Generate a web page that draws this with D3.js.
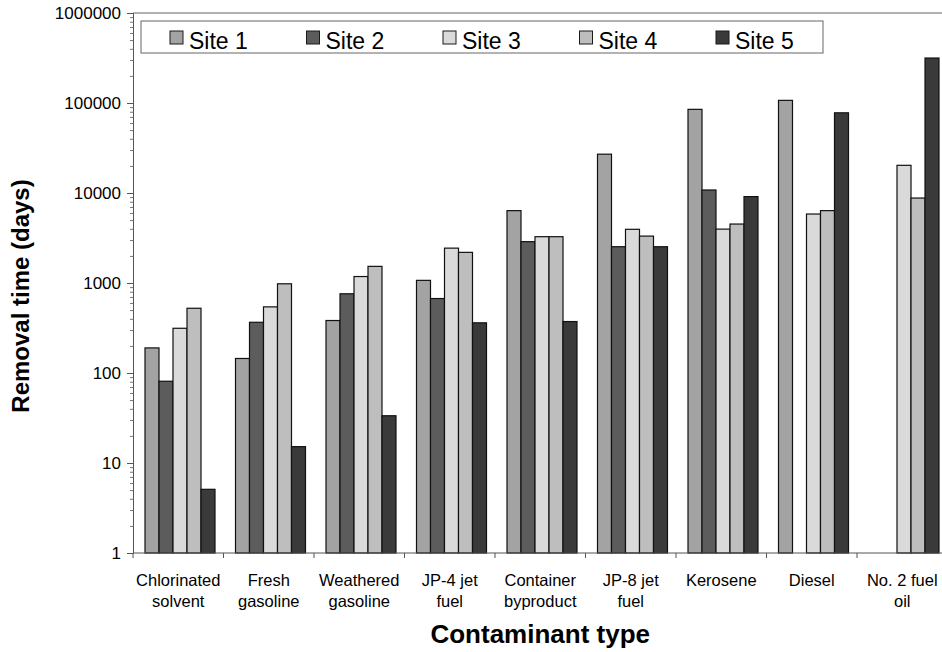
<!DOCTYPE html>
<html>
<head>
<meta charset="utf-8">
<script src="https://cdn.jsdelivr.net/npm/d3@7"></script>
<style>
  body { margin: 0; background: #fff; }
  svg { display: block; font-family: "Liberation Sans", Arial, sans-serif; }
  .tick text { fill: #000; }
</style>
</head>
<body>
<svg id="chart" width="942" height="652"></svg>
<script>
const categories = ['Chlorinated solvent', 'Fresh gasoline', 'Weathered gasoline', 'JP-4 jet fuel',
  'Container byproduct', 'JP-8 jet fuel', 'Kerosene', 'Diesel', 'No. 2 fuel oil'];
const categoryLines = [['Chlorinated', 'solvent'], ['Fresh', 'gasoline'], ['Weathered', 'gasoline'],
  ['JP-4 jet', 'fuel'], ['Container', 'byproduct'], ['JP-8 jet', 'fuel'], ['Kerosene'], ['Diesel'],
  ['No. 2 fuel', 'oil']];
const sites = ['Site 1', 'Site 2', 'Site 3', 'Site 4', 'Site 5'];
const siteColors = ['#a3a3a3', '#5c5c5c', '#dadada', '#bebebe', '#3a3a3a'];

// removal time (days), null = no bar
const site1 = [190, 145, 383, 1070, 6370, 27000, 85000, 107000, null];
const site2 = [81, 366, 759, 672, 2880, 2530, 10800, null, null];
const site3 = [314, 543, 1180, 2440, 3270, 3950, 3970, 5840, 20300];
const site4 = [524, 980, 1530, 2190, 3270, 3320, 4520, 6370, 8790];
const site5 = [5.1, 15.2, 33.5, 361, 373, 2530, 9120, 77800, 316000];
const seriesValues = [site1, site2, site3, site4, site5];

const yTickValues = [1, 10, 100, 1000, 10000, 100000, 1000000];

const plotLeft = 133, plotTop = 13, plotBottom = 553;
const bandWidth = 90.5;

const svg = d3.select('#chart');

const x0 = d3.scaleBand()
  .domain(categories)
  .range([plotLeft, plotLeft + bandWidth * categories.length]);

const x1 = d3.scaleBand()
  .domain(sites)
  .range([12, 82]);

const y = d3.scaleLog()
  .domain([1, 1000000])
  .range([plotBottom, plotTop]);

// top frame line
svg.append('line')
  .attr('x1', plotLeft).attr('x2', 942)
  .attr('y1', plotTop).attr('y2', plotTop)
  .attr('stroke', '#666').attr('stroke-width', 1);

// bars
const rows = [];
seriesValues.forEach((vals, si) => {
  vals.forEach((v, ci) => {
    if (v != null) rows.push({ cat: categories[ci], site: sites[si], value: v, color: siteColors[si] });
  });
});

svg.append('g')
  .selectAll('rect')
  .data(rows)
  .join('rect')
  .attr('x', (d) => x0(d.cat) + x1(d.site))
  .attr('width', x1.bandwidth())
  .attr('y', (d) => y(d.value))
  .attr('height', (d) => y(1) - y(d.value))
  .attr('fill', (d) => d.color)
  .attr('stroke', '#111')
  .attr('stroke-width', 1.2);

// Y axis, major ticks
const yAxis = svg.append('g')
  .attr('transform', 'translate(' + plotLeft + ',0)')
  .call(d3.axisLeft(y).tickValues(yTickValues).tickFormat(d3.format('d')).tickSize(6).tickPadding(6));
yAxis.select('.domain').attr('stroke', '#555');
yAxis.selectAll('.tick line').attr('stroke', '#555');
yAxis.selectAll('.tick text').attr('font-size', '17px');

// Y axis, minor ticks
const minorTicks = [];
yTickValues.slice(0, -1).forEach((d) => {
  for (let k = 2; k <= 9; k++) minorTicks.push(d * k);
});
const yMinor = svg.append('g')
  .attr('transform', 'translate(' + plotLeft + ',0)')
  .call(d3.axisLeft(y).tickValues(minorTicks).tickFormat('').tickSize(3));
yMinor.select('.domain').remove();
yMinor.selectAll('.tick line').attr('stroke', '#777');

// X axis line with boundary ticks
svg.append('line')
  .attr('x1', plotLeft).attr('x2', 942)
  .attr('y1', plotBottom).attr('y2', plotBottom)
  .attr('stroke', '#555');

svg.append('g')
  .selectAll('line')
  .data(categories)
  .join('line')
  .attr('x1', (d) => x0(d)).attr('x2', (d) => x0(d))
  .attr('y1', plotBottom).attr('y2', plotBottom + 5)
  .attr('stroke', '#555');

// category labels
const labels = svg.append('g')
  .selectAll('text')
  .data(categories)
  .join('text')
  .attr('text-anchor', 'middle')
  .attr('font-size', '16.5px')
  .attr('x', (d) => x0(d) + x0.bandwidth() / 2)
  .attr('y', 586);
labels.each(function (d, i) {
  d3.select(this).selectAll('tspan')
    .data(categoryLines[i])
    .join('tspan')
    .attr('x', x0(d) + x0.bandwidth() / 2)
    .attr('dy', (t, j) => (j === 0 ? 0 : 21))
    .text((t) => t);
});

// axis titles
svg.append('text')
  .attr('text-anchor', 'middle')
  .attr('font-weight', 'bold')
  .attr('font-size', '26px')
  .attr('x', (plotLeft + plotLeft + bandWidth * categories.length) / 2)
  .attr('y', 643)
  .text('Contaminant type');

svg.append('text')
  .attr('text-anchor', 'middle')
  .attr('font-weight', 'bold')
  .attr('font-size', '24px')
  .attr('transform', 'translate(29,296) rotate(-90)')
  .text('Removal time (days)');

// legend
const legend = svg.append('g');
legend.append('rect')
  .attr('x', 141).attr('y', 21)
  .attr('width', 682).attr('height', 32)
  .attr('fill', '#fff')
  .attr('stroke', '#666');

const legendX = d3.scalePoint().domain(sites).range([170, 716]);
const items = legend.selectAll('g.item')
  .data(sites)
  .join('g')
  .attr('class', 'item')
  .attr('transform', (d) => 'translate(' + legendX(d) + ',31)');
items.append('rect')
  .attr('width', 13).attr('height', 13)
  .attr('fill', (d, i) => siteColors[i])
  .attr('stroke', '#1a1a1a');
items.append('text')
  .attr('x', 19).attr('y', 18)
  .attr('font-size', '23px')
  .text((d) => d);
</script>
</body>
</html>
